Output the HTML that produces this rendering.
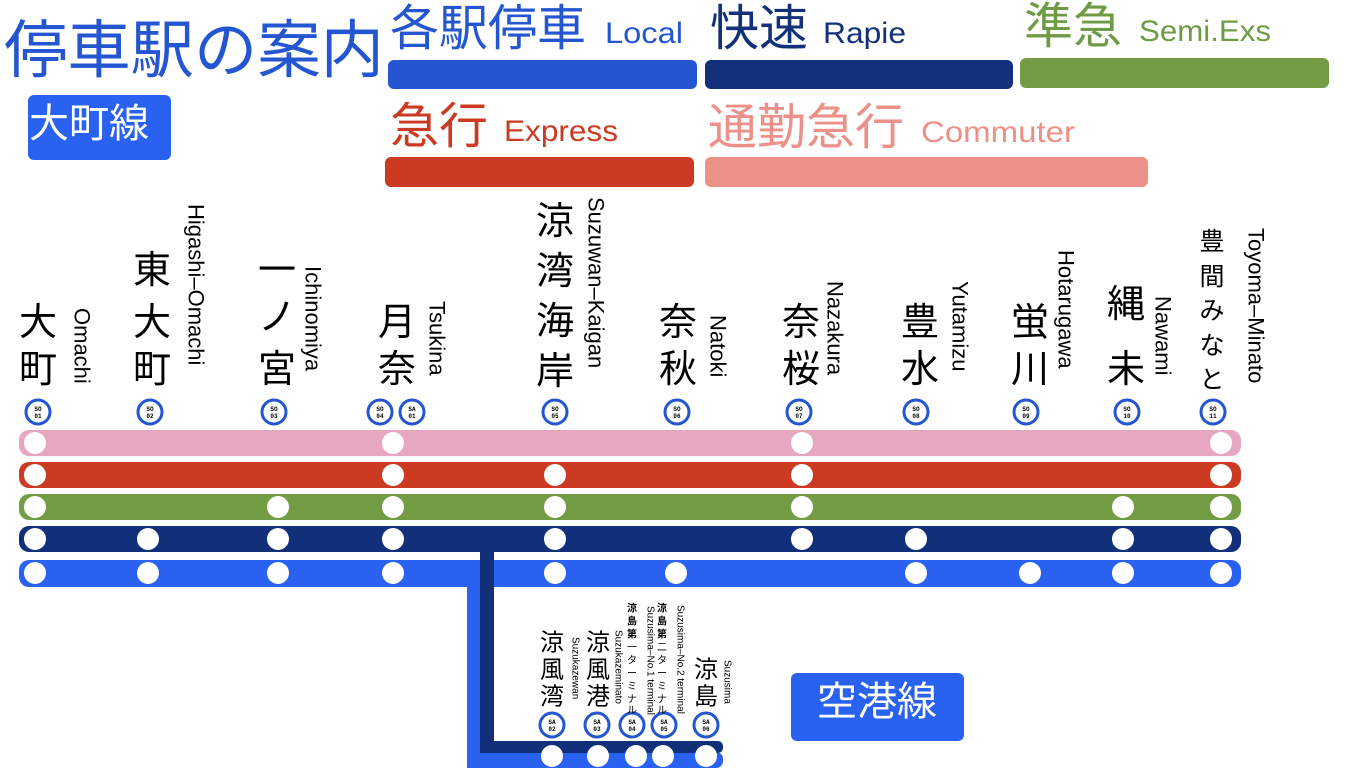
<!DOCTYPE html>
<html><head><meta charset="utf-8"><style>
html,body{margin:0;padding:0;background:#fff;width:1368px;height:771px;overflow:hidden}
svg{display:block}
.k{font-family:"Liberation Sans","Noto Sans CJK JP",sans-serif;text-anchor:middle;dominant-baseline:central;fill:#000}
.e{font-family:"Liberation Sans","Noto Sans CJK JP",sans-serif;dominant-baseline:central;fill:#000}
.h{font-family:"Liberation Sans","Noto Sans CJK JP",sans-serif}
.n{font-family:"Liberation Mono",monospace;font-size:6px;font-weight:bold;text-anchor:middle;fill:#000}
</style></head><body>
<svg width="1368" height="771" viewBox="0 0 1368 771" xmlns="http://www.w3.org/2000/svg">
<!-- header -->
<text x="4" y="72" class="h" font-size="63" fill="#2356d0" textLength="380" lengthAdjust="spacingAndGlyphs">停車駅の案内</text>
<rect x="28" y="95" width="143" height="65" rx="6" fill="#2962f0"/>
<text x="89" y="124" class="k" font-size="40" style="fill:#fff">大町線</text>

<text x="390" y="45" class="h" font-size="49" fill="#2356d0">各駅停車</text>
<text x="605" y="43" class="h" font-size="30" fill="#2356d0" textLength="78" lengthAdjust="spacingAndGlyphs">Local</text>
<rect x="388" y="60" width="309" height="29" rx="6" fill="#2356d0"/>
<text x="710" y="45" class="h" font-size="49" fill="#13307a">快速</text>
<text x="823" y="43" class="h" font-size="30" fill="#13307a" textLength="83" lengthAdjust="spacingAndGlyphs">Rapie</text>
<rect x="705" y="60" width="308" height="29" rx="6" fill="#13307a"/>
<text x="1024" y="43" class="h" font-size="49" fill="#709b45">準急</text>
<text x="1139" y="41" class="h" font-size="30" fill="#709b45" textLength="132" lengthAdjust="spacingAndGlyphs">Semi.Exs</text>
<rect x="1020" y="58" width="309" height="30" rx="6" fill="#739c45"/>
<text x="390" y="143" class="h" font-size="49" fill="#cc3a22">急行</text>
<text x="504" y="141" class="h" font-size="30" fill="#cc3a22" textLength="114" lengthAdjust="spacingAndGlyphs">Express</text>
<rect x="385" y="157" width="309" height="30" rx="6" fill="#cc3a22"/>
<text x="708" y="144" class="h" font-size="49" fill="#ec9088">通勤急行</text>
<text x="921" y="142" class="h" font-size="30" fill="#ec9088" textLength="154" lengthAdjust="spacingAndGlyphs">Commuter</text>
<rect x="705" y="157" width="443" height="30" rx="6" fill="#ec9088"/>

<!-- lines -->
<rect x="19" y="430" width="1222" height="26" rx="10" fill="#e8a7c0"/>
<rect x="19" y="462" width="1222" height="26" rx="10" fill="#cc3a22"/>
<rect x="19" y="494" width="1222" height="26" rx="10" fill="#739c45"/>
<rect x="467" y="575" width="14" height="193" fill="#2962f0"/>
<rect x="467" y="752" width="256" height="16" rx="7" fill="#2962f0"/>
<rect x="19" y="526" width="1222" height="26" rx="10" fill="#12307a"/>
<rect x="19" y="560" width="1222" height="27" rx="10" fill="#2962f0"/>
<rect x="480" y="540" width="14" height="213" fill="#12307a"/>
<rect x="480" y="741" width="243" height="12" rx="5" fill="#12307a"/>

<g fill="#fff">
<circle cx="35" cy="443" r="11"/><circle cx="393" cy="443" r="11"/><circle cx="802" cy="443" r="11"/><circle cx="1221" cy="443" r="11"/>
<circle cx="35" cy="475" r="11"/><circle cx="393" cy="475" r="11"/><circle cx="555" cy="475" r="11"/><circle cx="802" cy="475" r="11"/><circle cx="1221" cy="475" r="11"/>
<circle cx="35" cy="507" r="11"/><circle cx="278" cy="507" r="11"/><circle cx="393" cy="507" r="11"/><circle cx="555" cy="507" r="11"/><circle cx="802" cy="507" r="11"/><circle cx="1123" cy="507" r="11"/><circle cx="1221" cy="507" r="11"/>
<circle cx="35" cy="539" r="11"/><circle cx="148" cy="539" r="11"/><circle cx="278" cy="539" r="11"/><circle cx="393" cy="539" r="11"/><circle cx="555" cy="539" r="11"/><circle cx="802" cy="539" r="11"/><circle cx="916" cy="539" r="11"/><circle cx="1123" cy="539" r="11"/><circle cx="1221" cy="539" r="11"/>
<circle cx="35" cy="573" r="11"/><circle cx="148" cy="573" r="11"/><circle cx="278" cy="573" r="11"/><circle cx="393" cy="573" r="11"/><circle cx="555" cy="573" r="11"/><circle cx="676" cy="573" r="11"/><circle cx="916" cy="573" r="11"/><circle cx="1030" cy="573" r="11"/><circle cx="1123" cy="573" r="11"/><circle cx="1221" cy="573" r="11"/>
<circle cx="552" cy="756" r="11"/><circle cx="598" cy="756" r="11"/><circle cx="636" cy="756" r="11"/><circle cx="663" cy="756" r="11"/><circle cx="706" cy="756" r="11"/>
</g>

<rect x="791" y="673" width="173" height="68" rx="6" fill="#2962f0"/>
<text x="877" y="702" class="k" font-size="40" style="fill:#fff">空港線</text>

<g fill="#fff" stroke="#2356d0" stroke-width="3">
<circle cx="38" cy="412" r="12"/><circle cx="150" cy="412" r="12"/><circle cx="274" cy="412" r="12"/><circle cx="380" cy="412" r="12"/><circle cx="412" cy="412" r="12"/><circle cx="555" cy="412" r="12"/><circle cx="677" cy="412" r="12"/><circle cx="799" cy="412" r="12"/><circle cx="916" cy="412" r="12"/><circle cx="1026" cy="412" r="12"/><circle cx="1127" cy="412" r="12"/><circle cx="1213" cy="412" r="12"/>
<circle cx="552" cy="725" r="12"/><circle cx="597" cy="725" r="12"/><circle cx="632" cy="725" r="12"/><circle cx="664" cy="725" r="12"/><circle cx="706" cy="725" r="12"/>
</g>
<g class="n">
<text x="38" y="411" class="n">SO</text><text x="38" y="418" class="n">01</text>
<text x="150" y="411" class="n">SO</text><text x="150" y="418" class="n">02</text>
<text x="274" y="411" class="n">SO</text><text x="274" y="418" class="n">03</text>
<text x="380" y="411" class="n">SO</text><text x="380" y="418" class="n">04</text>
<text x="412" y="411" class="n">SA</text><text x="412" y="418" class="n">01</text>
<text x="555" y="411" class="n">SO</text><text x="555" y="418" class="n">05</text>
<text x="677" y="411" class="n">SO</text><text x="677" y="418" class="n">06</text>
<text x="799" y="411" class="n">SO</text><text x="799" y="418" class="n">07</text>
<text x="916" y="411" class="n">SO</text><text x="916" y="418" class="n">08</text>
<text x="1026" y="411" class="n">SO</text><text x="1026" y="418" class="n">09</text>
<text x="1127" y="411" class="n">SO</text><text x="1127" y="418" class="n">10</text>
<text x="1213" y="411" class="n">SO</text><text x="1213" y="418" class="n">11</text>
<text x="552" y="724" class="n">SA</text><text x="552" y="731" class="n">02</text>
<text x="597" y="724" class="n">SA</text><text x="597" y="731" class="n">03</text>
<text x="632" y="724" class="n">SA</text><text x="632" y="731" class="n">04</text>
<text x="664" y="724" class="n">SA</text><text x="664" y="731" class="n">05</text>
<text x="706" y="724" class="n">SA</text><text x="706" y="731" class="n">06</text>
</g>

<g font-size="38">
<text class="k" x="38" y="323">大</text><text class="k" x="38" y="370">町</text>
<text class="k" x="152" y="271">東</text><text class="k" x="152" y="323">大</text><text class="k" x="152" y="370">町</text>
<text class="k" x="277" y="271">一</text><text class="k" x="277" y="318">ノ</text><text class="k" x="277" y="370">宮</text>
<text class="k" x="397" y="323">月</text><text class="k" x="397" y="370">奈</text>
<text class="k" x="555" y="222">涼</text><text class="k" x="555" y="272">湾</text><text class="k" x="555" y="322">海</text><text class="k" x="555" y="372">岸</text>
<text class="k" x="678" y="323">奈</text><text class="k" x="678" y="370">秋</text>
<text class="k" x="801" y="323">奈</text><text class="k" x="801" y="370">桜</text>
<text class="k" x="920" y="323">豊</text><text class="k" x="920" y="370">水</text>
<text class="k" x="1030" y="323">蛍</text><text class="k" x="1030" y="370">川</text>
<text class="k" x="1126" y="305">縄</text><text class="k" x="1126" y="370">未</text>
</g>
<g font-size="25">
<text class="k" x="1212" y="242">豊</text><text class="k" x="1212" y="277">間</text><text class="k" x="1212" y="311">み</text><text class="k" x="1212" y="346">な</text><text class="k" x="1212" y="380">と</text>
</g>
<g font-size="22">
<text class="e" transform="translate(82,308) rotate(90)">Omachi</text>
<text class="e" transform="translate(196,204) rotate(90)">Higashi–Omachi</text>
<text class="e" transform="translate(313,266) rotate(90)">Ichinomiya</text>
<text class="e" transform="translate(437,301) rotate(90)">Tsukina</text>
<text class="e" transform="translate(596,197) rotate(90)">Suzuwan–Kaigan</text>
<text class="e" transform="translate(718,315) rotate(90)">Natoki</text>
<text class="e" transform="translate(835,281) rotate(90)">Nazakura</text>
<text class="e" transform="translate(960,281) rotate(90)">Yutamizu</text>
<text class="e" transform="translate(1066,250) rotate(90)">Hotarugawa</text>
<text class="e" transform="translate(1163,296) rotate(90)">Nawami</text>
<text class="e" transform="translate(1256,228) rotate(90)">Toyoma–Minato</text>
</g>

<g font-size="24">
<text class="k" x="552" y="643">涼</text><text class="k" x="552" y="670">風</text><text class="k" x="552" y="697">湾</text>
<text class="k" x="598" y="643">涼</text><text class="k" x="598" y="670">風</text><text class="k" x="598" y="697">港</text>
<text class="k" x="706" y="670">涼</text><text class="k" x="706" y="697">島</text>
</g>
<g font-size="10">
<text class="k" x="632" y="609" font-weight="bold">涼</text><text class="k" x="632" y="622" font-weight="bold">島</text><text class="k" x="632" y="635" font-weight="bold">第</text><text class="k" x="632" y="648">一</text><text class="k" x="632" y="661">タ</text><text class="k" x="632" y="674">ー</text><text class="k" x="632" y="687">ミ</text><text class="k" x="632" y="700">ナ</text><text class="k" x="632" y="711">ル</text>
<text class="k" x="662" y="609" font-weight="bold">涼</text><text class="k" x="662" y="622" font-weight="bold">島</text><text class="k" x="662" y="635" font-weight="bold">第</text><text class="k" x="662" y="648">二</text><text class="k" x="662" y="661">タ</text><text class="k" x="662" y="674">ー</text><text class="k" x="662" y="687">ミ</text><text class="k" x="662" y="700">ナ</text><text class="k" x="662" y="711">ル</text>
</g>
<g font-size="10">
<text class="e" transform="translate(575,637) rotate(90)">Suzukazewan</text>
<text class="e" transform="translate(618,630) rotate(90)">Suzukazeminato</text>
<text class="e" transform="translate(650,606) rotate(90)">Suzusima–No.1 terminal</text>
<text class="e" transform="translate(680,605) rotate(90)">Suzusima–No.2 terminal</text>
<text class="e" transform="translate(727,660) rotate(90)">Suzusima</text>
</g>
</svg>
</body></html>
